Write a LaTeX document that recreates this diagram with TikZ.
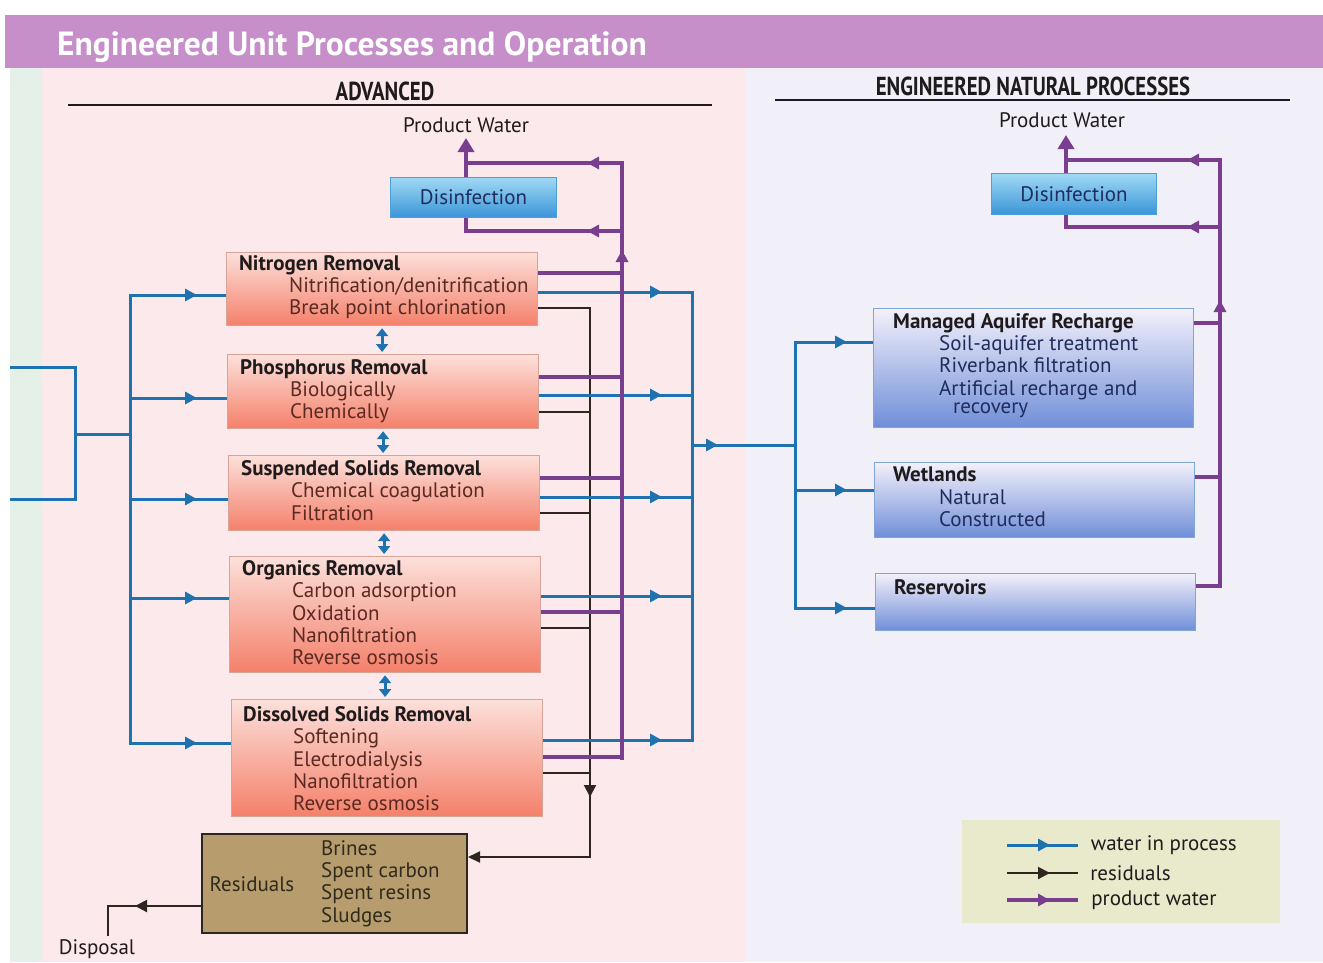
\documentclass[tikz,border=0pt]{standalone}
\usepackage{fontspec}
\setmainfont{PT Sans}
\newfontfamily\headfont[FakeStretch=0.8]{PT Sans}
\usetikzlibrary{arrows.meta,decorations.markings}

\definecolor{waterblue}{HTML}{1F72B0}
\definecolor{prodpurple}{HTML}{7A3E8E}
\definecolor{residbrown}{HTML}{2E261C}
\definecolor{bannerpink}{HTML}{C68FC9}
\definecolor{leftbg}{HTML}{FBE9EC}
\definecolor{rightbg}{HTML}{F1F0F9}
\definecolor{stripgreen}{HTML}{E5F0E9}
\definecolor{salmontop}{HTML}{FCE0DA}
\definecolor{salmonmid}{HTML}{F9B9A9}
\definecolor{salmonbot}{HTML}{F4806A}
\definecolor{salmonline}{HTML}{D9A397}
\definecolor{lavtop}{HTML}{F3F0FA}
\definecolor{lavmid}{HTML}{D9DBF2}
\definecolor{natbot}{HTML}{6F8ED8}
\definecolor{natline}{HTML}{7EA6D6}
\definecolor{distop}{HTML}{A0D9F5}
\definecolor{disbot}{HTML}{3A95D8}
\definecolor{disline}{HTML}{4C9FD8}
\definecolor{resfill}{HTML}{B79D6D}
\definecolor{legfill}{HTML}{E9EACB}
\definecolor{itemred}{HTML}{5A2A22}
\definecolor{itemnavy}{HTML}{1F2C5C}
\definecolor{itemolive}{HTML}{2E2A1E}
\definecolor{titledark}{HTML}{1F1A1C}

\newcommand{\advitem}[1]{\hspace*{50pt}\textcolor{itemred}{#1}}
\newcommand{\natitem}[1]{\hspace*{46pt}\textcolor{itemnavy}{#1}}

\tikzset{
	boxfont/.style = {font=\fontsize{21}{22.4}\selectfont},
	water/.style = {color=waterblue, line width=3pt},
	product/.style = {color=prodpurple, line width=4pt},
	resid/.style = {color=residbrown, line width=2pt},
	trunk/.style = {line cap=rect},
	tipat/.style = {postaction={decorate, decoration={markings, mark=at position #1 with {\arrow{Triangle[length=12pt,width=12pt]}}}}},
	bigtip/.style = {-{Triangle[length=14pt,width=16pt]}},
	dbltip/.style = {{Triangle[length=8pt,width=12pt]}-{Triangle[length=8pt,width=12pt]}, shorten <=2pt, shorten >=2pt},
	advbox/.style = {draw=salmonline, line width=1.2pt, top color=salmontop, middle color=salmonmid, bottom color=salmonbot, anchor=north west, inner sep=0pt},
	natbox/.style = {draw=natline, line width=1.2pt, top color=lavtop, middle color=lavmid, bottom color=natbot, anchor=north west, inner sep=0pt},
	disbox/.style = {draw=disline, line width=1pt, top color=distop, bottom color=disbot, anchor=north west, inner sep=0pt, boxfont, text=itemnavy},
	resbox/.style = {draw=residbrown, line width=2pt, fill=resfill, anchor=north west, inner sep=0pt},
	boxtext/.style = {boxfont, anchor=north west, align=left, inner sep=0pt, text=titledark},
	heading/.style = {font=\headfont\bfseries\fontsize{26}{26}\selectfont, text=titledark},
	bannertext/.style = {anchor=base west, inner sep=0pt, text=white, font=\bfseries\fontsize{33.5}{33.5}\selectfont},
	rule/.style = {line width=1.5pt, color=titledark}
}

\begin{document}
\begin{tikzpicture}[x=1pt, y=-1pt]
% page and banner
\useasboundingbox (0,0) rectangle (1323,962);
\fill[white] (0,0) rectangle (1323,962);
\fill[leftbg] (10,68) rectangle (745,962);
\fill[rightbg] (745,68) rectangle (1323,962);
\fill[stripgreen] (10,68) rectangle (42,962);
\fill[bannerpink] (5,15) rectangle (1323,68);
\node[bannertext] (banner) at (57,55) {Engineered Unit Processes and Operation};

% headings
\node[heading] (advhead) at (385,91) {ADVANCED};
\node[heading] (nathead) at (1033,86) {ENGINEERED NATURAL PROCESSES};
\draw[rule] (68,105) -- (712,105);
\draw[rule] (775,100) -- (1290,100);

% advanced processes
\node[advbox, minimum width=311pt, minimum height=73pt] (nitro) at (226,252) {};
\node[advbox, minimum width=311pt, minimum height=74pt] (phos) at (227,354) {};
\node[advbox, minimum width=311pt, minimum height=75pt] (susp) at (228,455) {};
\node[advbox, minimum width=311pt, minimum height=116pt] (organ) at (229,556) {};
\node[advbox, minimum width=311pt, minimum height=117pt] (dissol) at (231,699) {};

\node[boxtext] (nitrotxt) at (239,255) {\textbf{Nitrogen Removal}\\ \advitem{Nitrification/denitrification}\\ \advitem{Break point chlorination}};
\node[boxtext] (phostxt) at (240,359) {\textbf{Phosphorus Removal}\\ \advitem{Biologically}\\ \advitem{Chemically}};
\node[boxtext] (susptxt) at (241,460) {\textbf{Suspended Solids Removal}\\ \advitem{Chemical coagulation}\\ \advitem{Filtration}};
\node[boxtext] (organtxt) at (242,560) {\textbf{Organics Removal}\\ \advitem{Carbon adsorption}\\ \advitem{Oxidation}\\ \advitem{Nanofiltration}\\ \advitem{Reverse osmosis}};
\node[boxtext] (dissoltxt) at (243,706) {\textbf{Dissolved Solids Removal}\\ \advitem{Softening}\\ \advitem{Electrodialysis}\\ \advitem{Nanofiltration}\\ \advitem{Reverse osmosis}};

\node[disbox, minimum width=166pt, minimum height=40pt] (disA) at (390,177) {Disinfection};
\node[boxfont, text=titledark] (pwA) at (466,125) {Product Water};

\node[resbox, minimum width=265pt, minimum height=99pt] (resid) at (201,833) {};
\node[boxfont, text=itemolive] (residlbl) at (252,884) {Residuals};
\node[boxtext, text=itemolive] (residtxt) at (321,840) {Brines\\Spent carbon\\Spent resins\\Sludges};
\node[boxfont, text=titledark] (dispo) at (97,949) {Disposal};

% engineered natural processes
\node[natbox, minimum width=320pt, minimum height=119pt] (mar) at (873,308) {};
\node[natbox, minimum width=320pt, minimum height=75pt] (wet) at (874,462) {};
\node[natbox, minimum width=320pt, minimum height=57pt] (resv) at (875,573) {};

\node[boxtext] (martxt) at (893,313) {\textbf{Managed Aquifer Recharge}\\ \natitem{Soil-aquifer treatment}\\ \natitem{Riverbank filtration}\\ \natitem{Artificial recharge and}\\[-4pt] \hspace*{14pt}\natitem{recovery}};
\node[boxtext] (wettxt) at (893,467) {\textbf{Wetlands}\\ \natitem{Natural}\\ \natitem{Constructed}};
\node[boxtext] (resvtxt) at (894,579) {\textbf{Reservoirs}};

\node[disbox, minimum width=165pt, minimum height=41pt] (disB) at (991,173) {Disinfection};
\node[boxfont, text=titledark] (pwB) at (1062,120) {Product Water};

% trunk points
\coordinate (ftrunk) at (130,434);
\coordinate (rtrunk) at (590,308);
\coordinate (ptrunkA) at (622,163);
\coordinate (plowA) at (622,231);
\coordinate (pbotA) at (622,758);
\coordinate (wtrunk) at (692,445);
\coordinate (ntrunk) at (795,445);
\coordinate (ptrunkB) at (1220,160);
\coordinate (plowB) at (1220,227);
\coordinate (pbotB) at (1220,586);
\coordinate (pwtipA) at (466,138);
\coordinate (pwtipB) at (1066,135);
\coordinate (disp) at (108,906);

% feed
\draw[water] (10,367) -- (75,367) -- (75,499) -- (10,499);
\draw[water] (75,434) -- (ftrunk);
\draw[water, trunk] (130,295) -- (130,743);
\foreach \bx/\dy in {nitro/43, phos/44, susp/44, organ/42, dissol/44} {
	\path ([yshift=-\dy pt]\bx.north west) coordinate (in);
	\draw[water, tipat=67pt] (in -| ftrunk) -- (in);
}
\foreach \a/\b in {nitro/phos, phos/susp, susp/organ, organ/dissol}
	\draw[water, dbltip] (\a.south) -- (\a.south |- \b.north);

% residuals
\foreach \bx/\dy in {nitro/56, phos/58, susp/58, organ/72, dissol/74} {
	\path ([yshift=-\dy pt]\bx.north east) coordinate (out);
	\draw[resid] (out) -- (out -| rtrunk);
}
\path ([yshift=-24pt]resid.north east) coordinate (rin);
\draw[resid, trunk, tipat=489pt, -{Triangle[length=12pt,width=11pt]}] (rtrunk) -- (rtrunk |- rin) -- (rin);
\path ([yshift=-73pt]resid.north west) coordinate (rout);
\draw[resid, tipat=66pt] (rout) -- (rout -| disp) -- (disp |- dispo.north);

% water in process
\foreach \bx/\dy in {nitro/40, phos/41, susp/42, organ/40, dissol/41} {
	\path ([yshift=-\dy pt]\bx.north east) coordinate (out);
	\draw[water, tipat=-30pt] (out) -- (out -| wtrunk);
}
\draw[water, trunk] (wtrunk |- 0,292) -- (wtrunk |- 0,740);
\draw[water, tipat=26pt] (wtrunk) -- (ntrunk);
\draw[water, trunk] (ntrunk |- 0,342) -- (ntrunk |- 0,608);
\foreach \bx/\dy in {mar/34, wet/28, resv/35} {
	\path ([yshift=-\dy pt]\bx.north west) coordinate (in);
	\draw[water, tipat=52pt] (in -| ntrunk) -- (in);
}

% product water
\foreach \bx/\dy in {nitro/21, phos/23, susp/23, organ/56, dissol/58} {
	\path ([yshift=-\dy pt]\bx.north east) coordinate (out);
	\draw[product] (out) -- (out -| ptrunkA);
}
\draw[product, trunk, tipat=508pt] (pbotA) -- (ptrunkA);
\draw[product, tipat=35pt] (ptrunkA) -- (ptrunkA -| pwtipA);
\draw[product, tipat=35pt] (plowA) -- (plowA -| pwtipA) -- (pwtipA |- disA.south);
\draw[product, bigtip] (pwtipA |- disA.north) -- (pwtipA);

\foreach \bx/\dy in {mar/15, wet/15, resv/13} {
	\path ([yshift=-\dy pt]\bx.north east) coordinate (out);
	\draw[product] (out) -- (out -| ptrunkB);
}
\draw[product, trunk, tipat=286pt] (pbotB) -- (ptrunkB);
\draw[product, tipat=33pt] (ptrunkB) -- (ptrunkB -| pwtipB);
\draw[product, tipat=33pt] (plowB) -- (plowB -| pwtipB) -- (pwtipB |- disB.south);
\draw[product, bigtip] (pwtipB |- disB.north) -- (pwtipB);

% legend
\node[fill=legfill, anchor=north west, minimum width=318pt, minimum height=103pt, inner sep=0pt] (legend) at (962,820) {};
\foreach \sty/\yy/\txt in {water/845/water in process, resid/873/residuals, product/900/product water}
	\draw[\sty, tipat=43pt] (legend.west |- 0,\yy) ++(45,0) -- ++(71,0) node[boxfont, anchor=west, text=titledark, xshift=8pt] (leg\sty) {\txt};
\end{tikzpicture}
\end{document}
